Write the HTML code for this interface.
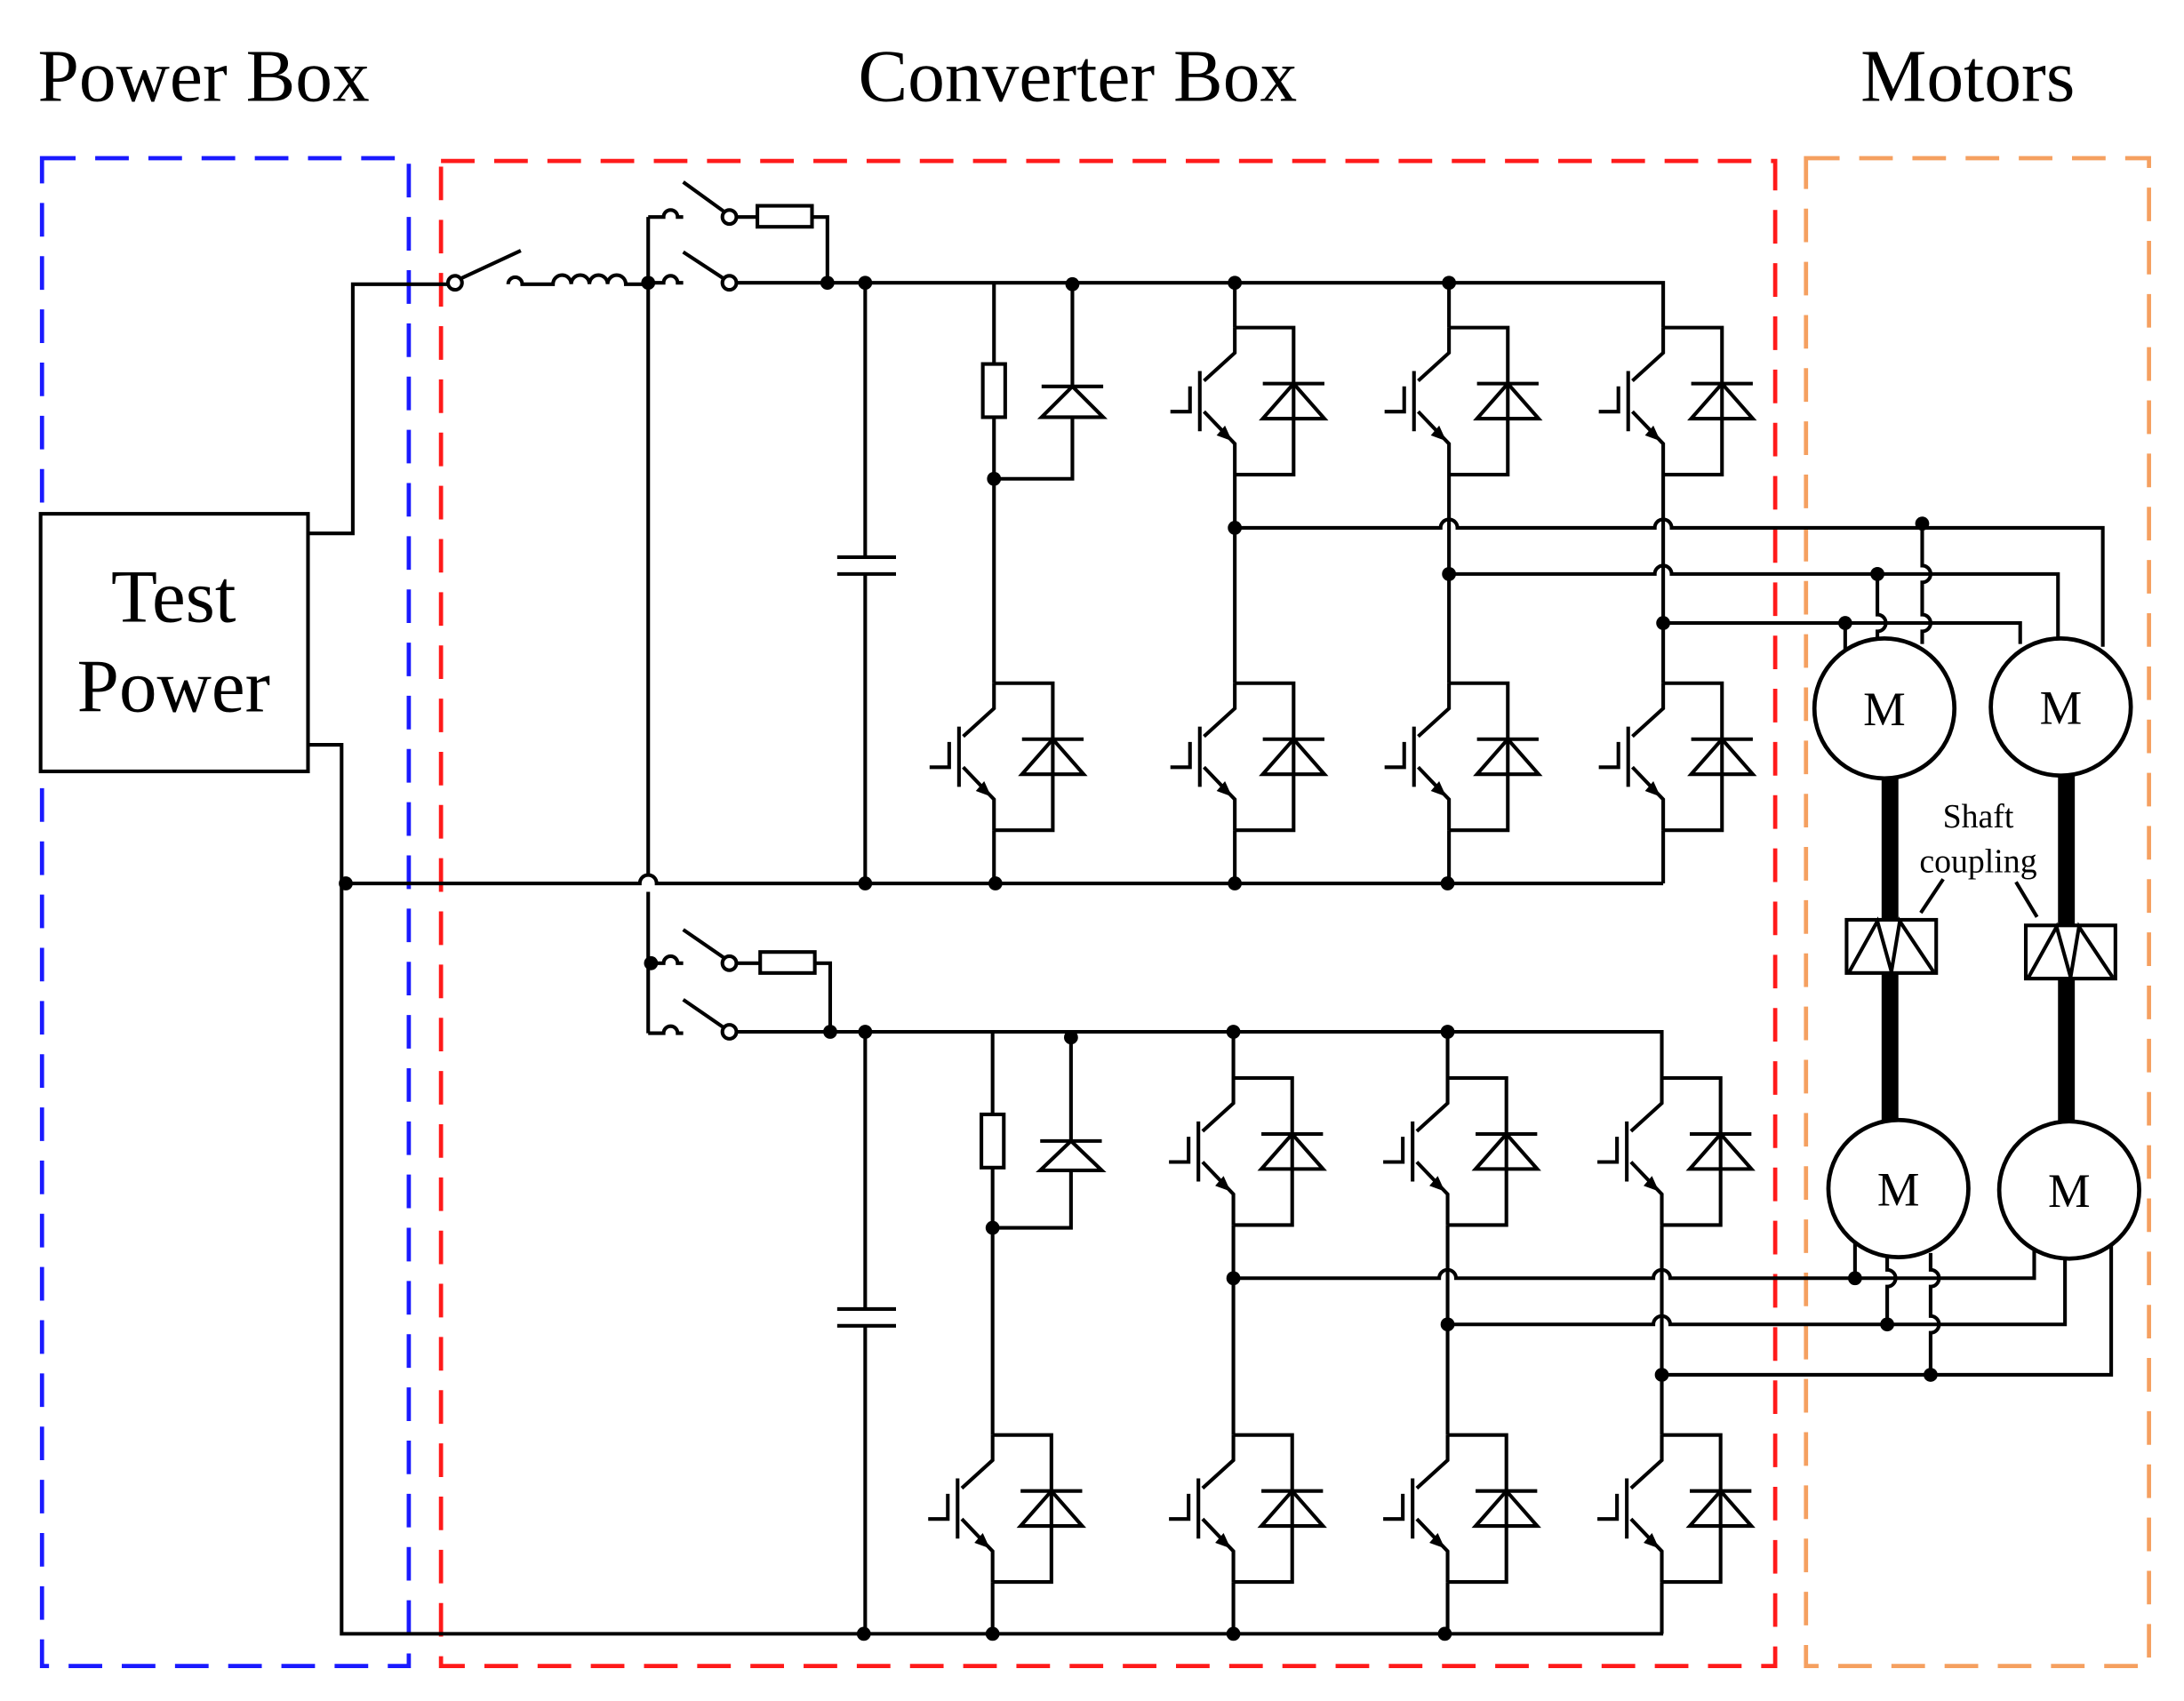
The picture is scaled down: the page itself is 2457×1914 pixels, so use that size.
<!DOCTYPE html>
<html><head><meta charset="utf-8"><style>
html,body{margin:0;padding:0;background:#fff;}
svg{display:block;}
text{font-family:"Liberation Serif",serif;fill:#000;}
</style></head><body>
<svg width="2457" height="1914" viewBox="0 0 1560 1215" preserveAspectRatio="none" xmlns="http://www.w3.org/2000/svg">
<defs>
<g id="cell" fill="none" stroke="#000" stroke-width="2.6">
<path d="M0,0 H42 V105 H0"/>
<path d="M0,0 V18 L-22,38"/>
<path d="M-22,60 L0,83 V105"/>
<path d="M-25,31 V74"/>
<path d="M-32,42 V60 H-46"/>
<polygon points="-2,81 -13,77 -7,70" fill="#000" stroke="none"/>
<polygon points="42,40 20,65 64,65"/>
<path d="M20,40 H64"/>
</g>
<g id="cpl" fill="none" stroke="#000" stroke-width="2.6">
<rect x="0" y="0" width="64" height="38" fill="#fff"/>
<path d="M2,37 L22,1 L32,37 L38,1 L62,37"/>
</g>
</defs>
<rect width="1560" height="1215" fill="#fff"/>
<text x="27" y="72" font-size="53">Power Box</text>
<text x="613" y="72" font-size="53">Converter Box</text>
<text x="1329" y="72" font-size="53">Motors</text>

<g fill="none" stroke-width="3" stroke-dasharray="24,14">
<rect x="30" y="113" width="262" height="1077" stroke="#1a1aff"/>
<rect x="315" y="115" width="953" height="1075" stroke="#ff1a1a"/>
<rect x="1290" y="113" width="245" height="1077" stroke="#f5a060"/>
</g>

<g fill="none" stroke="#000" stroke-width="2.6">
<rect x="29" y="367" width="191" height="184" fill="#fff"/>
<path d="M220,381 H252 V203 H320"/>
<path d="M220,532 H244 V1167 H1188"/>
<path d="M247,631 H457 a6,6 0 0 1 12,0 H1188"/>
<circle cx="325" cy="202" r="5" fill="#fff"/>
<path d="M329,199 L372,179"/>
<path d="M363,203 a5,5 0 0 1 10,0 H395 a6.5,6.5 0 0 1 13,0 a6.5,6.5 0 0 1 13,0 a6.5,6.5 0 0 1 13,0 a6.5,6.5 0 0 1 13,0 H463"/>
<path d="M463,155 V625 M463,637 V738"/>
<path d="M463,155 H474 a5,5 0 0 1 10,0 H488"/>
<path d="M488,130 L517,151"/>
<circle cx="521" cy="155" r="5" fill="#fff"/>
<path d="M526,155 H541"/>
<rect x="541" y="147" width="39" height="15"/>
<path d="M580,155 H591 V202"/>
<path d="M463,202 H474 a5,5 0 0 1 10,0 H488"/>
<path d="M488,180 L517,199"/>
<circle cx="521" cy="202" r="5" fill="#fff"/>
<path d="M526,202 H1188 V234"/>
<path d="M463,688 H474 a5,5 0 0 1 10,0 H488"/>
<path d="M488,664 L517,684"/>
<circle cx="521" cy="688" r="5" fill="#fff"/>
<path d="M526,688 H543"/>
<rect x="543" y="680" width="39" height="15"/>
<path d="M582,688 H593 V737"/>
<path d="M463,738 H474 a5,5 0 0 1 10,0 H488"/>
<path d="M488,714 L517,734"/>
<circle cx="521" cy="737" r="5" fill="#fff"/>
<path d="M526,737 H1187 V770"/>

<path d="M618,202 V398 M618,410 V631 M598,398 H640 M598,410 H640"/>
<path d="M618,737 V935 M618,947 V1167 M598,935 H640 M598,947 H640"/>

<path d="M710,202 V260 M710,298 V488 M710,593 V631"/>
<rect x="702" y="260" width="16" height="38"/>
<path d="M766,202 V276 M766,298 V342 H710"/>
<polygon points="766,276 744,298 788,298"/>
<path d="M744,276 H788"/>
<path d="M882,202 V234 M882,339 V488 M882,593 V631"/>
<path d="M1035,202 V234 M1035,339 V488 M1035,593 V631"/>
<path d="M1188,339 V488 M1188,593 V631"/>

<path d="M709,737 V796 M709,834 V1025 M709,1130 V1167"/>
<rect x="701" y="796" width="16" height="38"/>
<path d="M765,737 V815 M765,836 V877 H709"/>
<polygon points="765,815 743,836 787,836"/>
<path d="M743,815 H787"/>
<path d="M881,737 V770 M881,875 V1025 M881,1130 V1167"/>
<path d="M1034,737 V770 M1034,875 V1025 M1034,1130 V1167"/>
<path d="M1187,875 V1025 M1187,1130 V1167"/>

<path d="M882,377 H1029 a6,6 0 0 1 12,0 H1182 a6,6 0 0 1 12,0 H1502 V462"/>
<path d="M1035,410 H1182 a6,6 0 0 1 12,0 H1470 V456"/>
<path d="M1188,445 H1443 V460"/>
<path d="M1318,445 V470"/>
<path d="M1341,410 V439 a6,6 0 0 1 0,12 V457"/>
<path d="M1373,377 V404 a6,6 0 0 1 0,12 V439 a6,6 0 0 1 0,12 V460"/>
<path d="M881,913 H1028 a6,6 0 0 1 12,0 H1181 a6,6 0 0 1 12,0 H1453 V890"/>
<path d="M1034,946 H1181 a6,6 0 0 1 12,0 H1475 V898"/>
<path d="M1187,982 H1508 V885"/>
<path d="M1325,913 V888"/>
<path d="M1348,946 V919 a6,6 0 0 0 0,-12 V896"/>
<path d="M1379,982 V952 a6,6 0 0 0 0,-12 V919 a6,6 0 0 0 0,-12 V895"/>
<path d="M1388,628 L1372,652 M1440,630 L1455,655"/>
</g>

<use href="#cell" x="882" y="234"/>
<use href="#cell" x="1035" y="234"/>
<use href="#cell" x="1188" y="234"/>
<use href="#cell" x="710" y="488"/>
<use href="#cell" x="882" y="488"/>
<use href="#cell" x="1035" y="488"/>
<use href="#cell" x="1188" y="488"/>
<use href="#cell" x="881" y="770"/>
<use href="#cell" x="1034" y="770"/>
<use href="#cell" x="1187" y="770"/>
<use href="#cell" x="709" y="1025"/>
<use href="#cell" x="881" y="1025"/>
<use href="#cell" x="1034" y="1025"/>
<use href="#cell" x="1187" y="1025"/>

<path d="M1350,552 V800 M1476,552 V802" stroke="#000" stroke-width="12" stroke-linecap="round"/>
<use href="#cpl" x="1319" y="657"/>
<use href="#cpl" x="1447" y="661"/>

<g fill="#fff" stroke="#000" stroke-width="3">
<ellipse cx="1346" cy="506" rx="50" ry="50"/>
<ellipse cx="1472" cy="505" rx="50" ry="49"/>
<ellipse cx="1356" cy="849" rx="50" ry="49"/>
<ellipse cx="1478" cy="850" rx="50" ry="49"/>
</g>
<text x="1346" y="518" font-size="34" text-anchor="middle">M</text>
<text x="1472" y="517" font-size="34" text-anchor="middle">M</text>
<text x="1356" y="861" font-size="34" text-anchor="middle">M</text>
<text x="1478" y="862" font-size="34" text-anchor="middle">M</text>
<text x="1413" y="591" font-size="24" text-anchor="middle">Shaft</text>
<text x="1413" y="623" font-size="24" text-anchor="middle">coupling</text>

<text x="124" y="444" font-size="54" text-anchor="middle">Test</text>
<text x="124" y="508" font-size="54" text-anchor="middle">Power</text>

<g fill="#000">
<circle cx="463" cy="202" r="5"/><circle cx="591" cy="202" r="5"/><circle cx="618" cy="202" r="5"/>
<circle cx="766" cy="203" r="5"/><circle cx="882" cy="202" r="5"/><circle cx="1035" cy="202" r="5"/>
<circle cx="710" cy="342" r="5"/>
<circle cx="247" cy="631" r="5"/><circle cx="618" cy="631" r="5"/><circle cx="711" cy="631" r="5"/><circle cx="882" cy="631" r="5"/><circle cx="1034" cy="631" r="5"/>
<circle cx="882" cy="377" r="5"/><circle cx="1035" cy="410" r="5"/><circle cx="1188" cy="445" r="5"/>
<circle cx="1373" cy="374" r="5"/><circle cx="1341" cy="410" r="5"/><circle cx="1318" cy="445" r="5"/>
<circle cx="465" cy="688" r="5"/><circle cx="593" cy="737" r="5"/><circle cx="618" cy="737" r="5"/>
<circle cx="765" cy="741" r="5"/><circle cx="881" cy="737" r="5"/><circle cx="1034" cy="737" r="5"/>
<circle cx="709" cy="877" r="5"/>
<circle cx="881" cy="913" r="5"/><circle cx="1034" cy="946" r="5"/><circle cx="1187" cy="982" r="5"/>
<circle cx="1325" cy="913" r="5"/><circle cx="1348" cy="946" r="5"/><circle cx="1379" cy="982" r="5"/>
<circle cx="617" cy="1167" r="5"/><circle cx="709" cy="1167" r="5"/><circle cx="881" cy="1167" r="5"/><circle cx="1032" cy="1167" r="5"/>
</g>
</svg>
</body></html>
